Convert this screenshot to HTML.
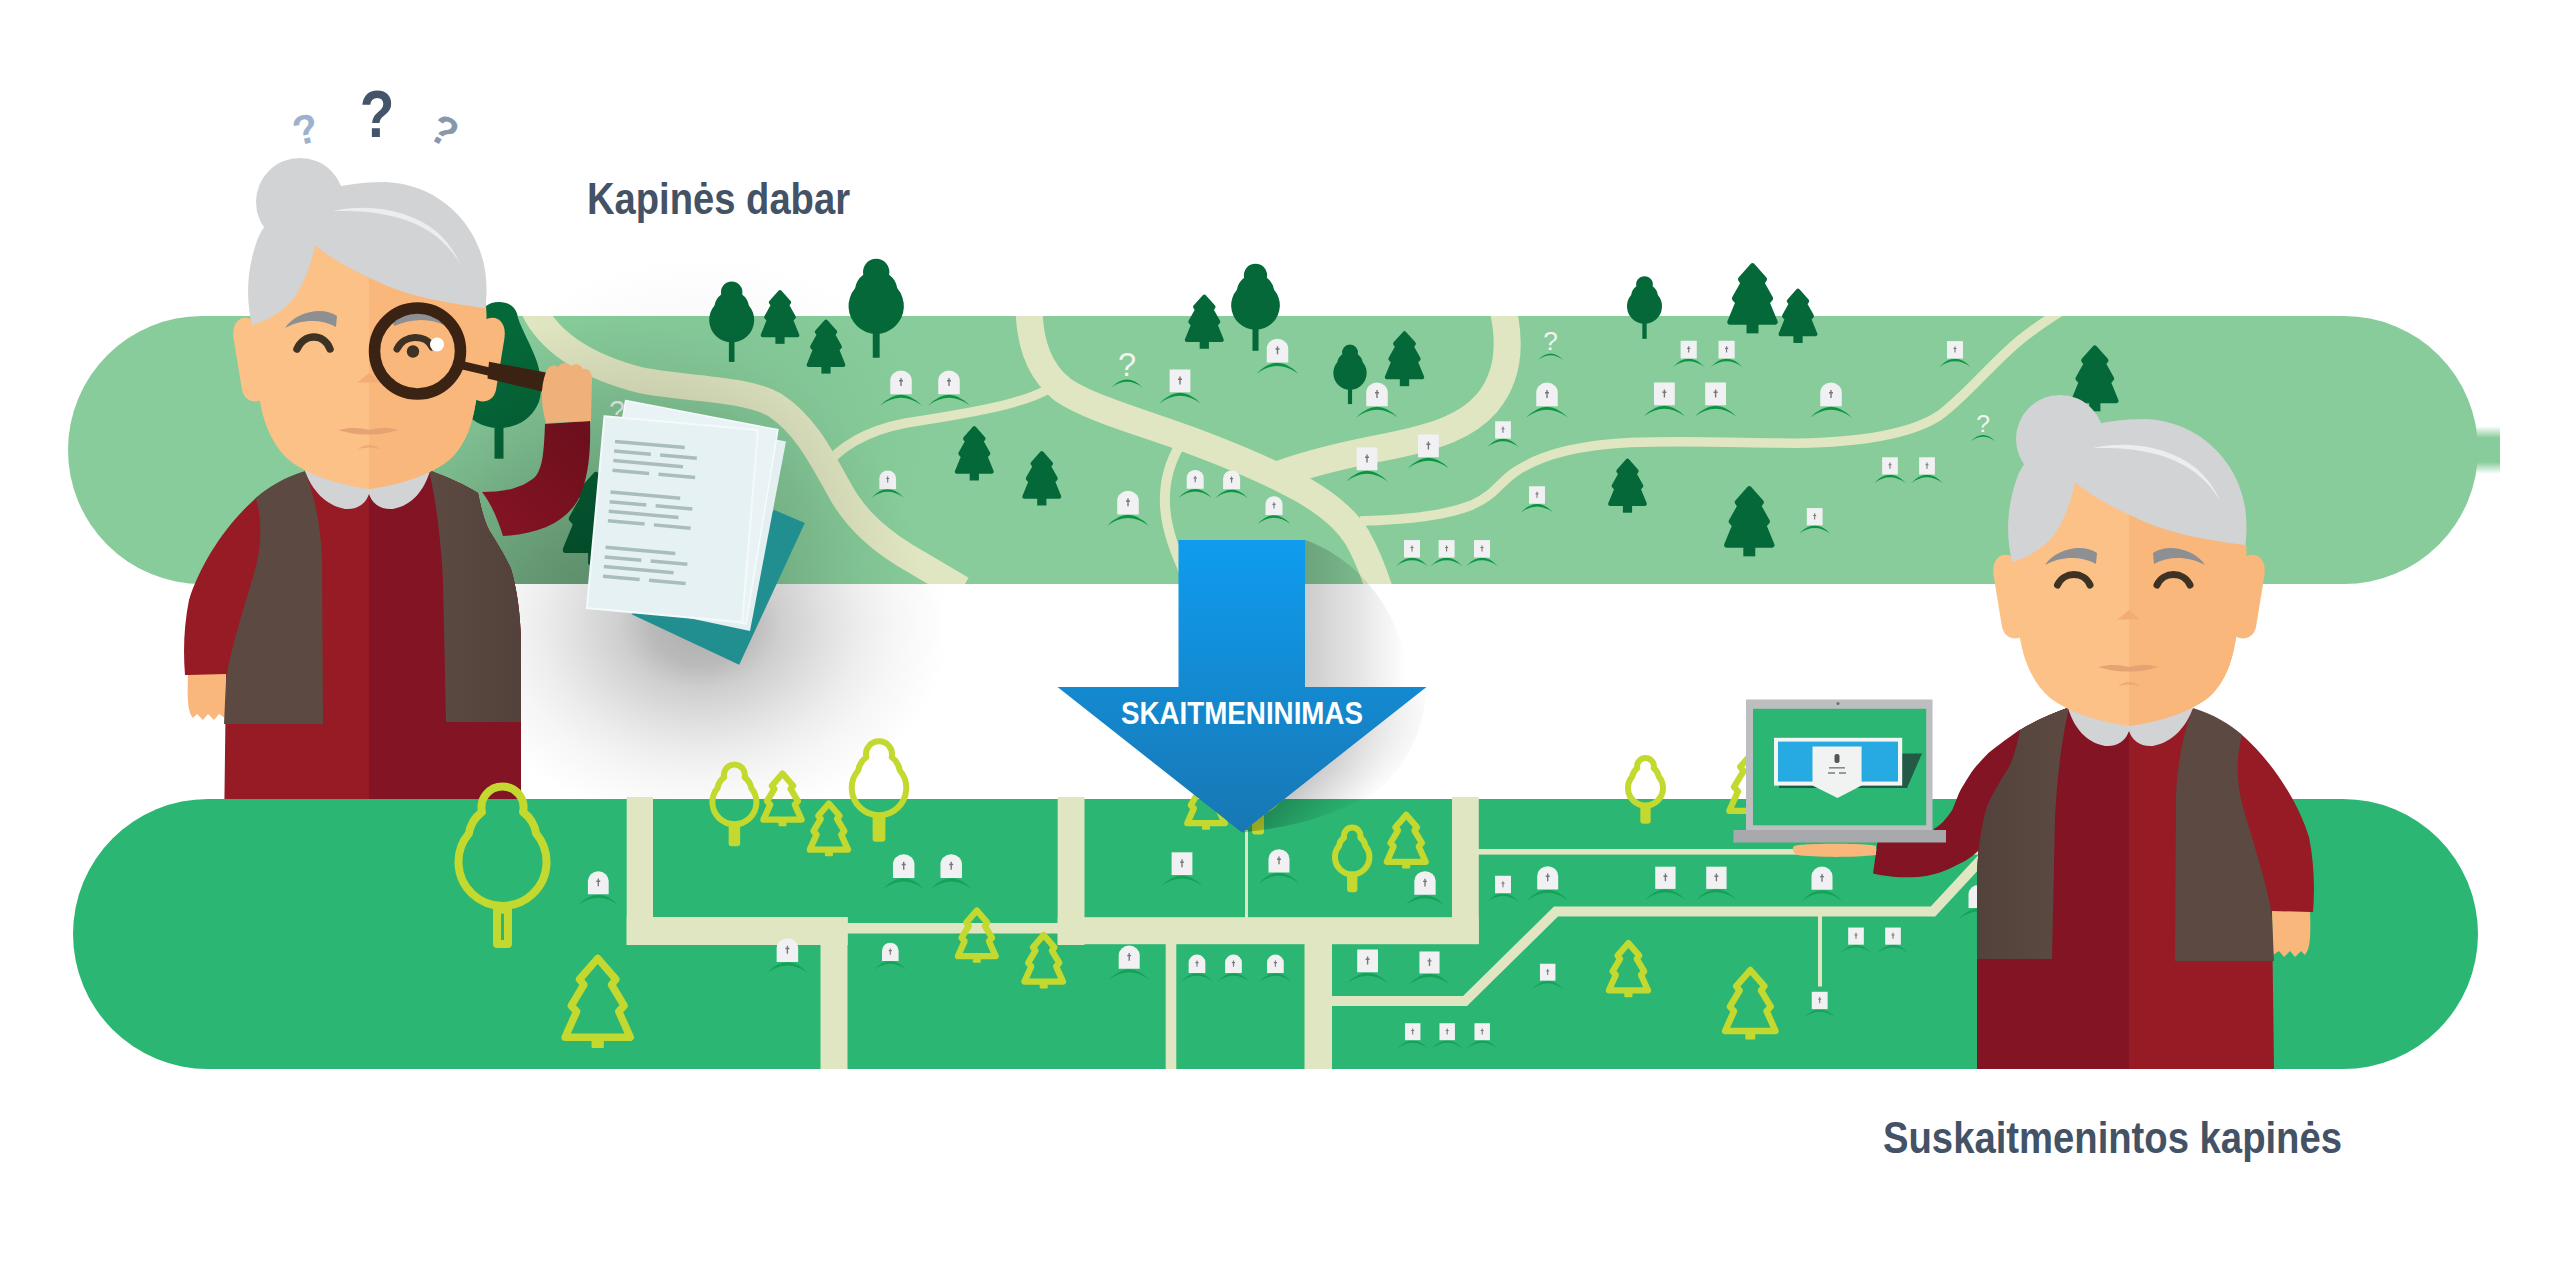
<!DOCTYPE html>
<html lang="lt"><head><meta charset="utf-8"><title>Kapinių skaitmeninimas</title>
<style>html,body{margin:0;padding:0;background:#fff}body{width:2560px;height:1280px;overflow:hidden}svg{display:block}</style></head>
<body>
<svg width="2560" height="1280" viewBox="0 0 2560 1280">

<defs>
 <linearGradient id="arr" x1="0" y1="0" x2="0" y2="1"><stop offset="0" stop-color="#0f9cef"/><stop offset="1" stop-color="#1877b3"/></linearGradient>
 <linearGradient id="arrsh" gradientUnits="userSpaceOnUse" x1="1305" y1="0" x2="1425" y2="0"><stop offset="0" stop-color="#000" stop-opacity=".2"/><stop offset=".45" stop-color="#000" stop-opacity=".1"/><stop offset=".85" stop-color="#000" stop-opacity="0"/></linearGradient>
 <linearGradient id="arrsh2" gradientUnits="userSpaceOnUse" x1="1334" y1="759.5" x2="1368" y2="802.7"><stop offset="0" stop-color="#000" stop-opacity=".25"/><stop offset=".4" stop-color="#000" stop-opacity=".15"/><stop offset="1" stop-color="#000" stop-opacity="0"/></linearGradient>
 <linearGradient id="m2g" gradientUnits="userSpaceOnUse" x1="1262" y1="816" x2="1420" y2="692"><stop offset="0" stop-color="#fff"/><stop offset=".45" stop-color="#fff" stop-opacity=".75"/><stop offset="1" stop-color="#fff" stop-opacity=".08"/></linearGradient>
 <mask id="m2" maskUnits="userSpaceOnUse" x="1200" y="650" width="300" height="220"><rect x="1200" y="650" width="300" height="220" fill="url(#m2g)"/></mask>
 <radialGradient id="gsh"><stop offset="0" stop-color="#000" stop-opacity=".33"/><stop offset=".25" stop-color="#000" stop-opacity=".26"/><stop offset=".5" stop-color="#000" stop-opacity=".16"/><stop offset=".65" stop-color="#000" stop-opacity=".10"/><stop offset=".8" stop-color="#000" stop-opacity=".05"/><stop offset="1" stop-color="#000" stop-opacity="0"/></radialGradient>
 <radialGradient id="gsh2"><stop offset="0" stop-color="#000" stop-opacity=".32"/><stop offset=".2" stop-color="#000" stop-opacity=".27"/><stop offset=".32" stop-color="#000" stop-opacity=".19"/><stop offset=".5" stop-color="#000" stop-opacity=".12"/><stop offset=".64" stop-color="#000" stop-opacity=".07"/><stop offset=".78" stop-color="#000" stop-opacity=".035"/><stop offset="1" stop-color="#000" stop-opacity="0"/></radialGradient>
 <radialGradient id="gsh3"><stop offset="0" stop-color="#000" stop-opacity=".05"/><stop offset=".5" stop-color="#000" stop-opacity=".03"/><stop offset="1" stop-color="#000" stop-opacity="0"/></radialGradient>
 <linearGradient id="stub" x1="0" y1="0" x2="0" y2="1"><stop offset="0" stop-color="#87cc9a" stop-opacity="0"/><stop offset=".25" stop-color="#87cc9a"/><stop offset=".75" stop-color="#87cc9a"/><stop offset="1" stop-color="#87cc9a" stop-opacity="0"/></linearGradient>
 <linearGradient id="armg" gradientUnits="userSpaceOnUse" x1="490" y1="540" x2="590" y2="440"><stop offset="0" stop-color="#861424"/><stop offset="1" stop-color="#6e0f1d"/></linearGradient>
 <linearGradient id="vestg" gradientUnits="userSpaceOnUse" x1="430" y1="0" x2="521" y2="0"><stop offset="0" stop-color="#5c4a42"/><stop offset="1" stop-color="#52423b"/></linearGradient>
 <g id="rt"><path d="M10.5,13.05 A10.75,10.75 0 1 0 -10.5,13.05 A17.3,17.3 0 0 0 -17.19,24.04 A22.5,22.5 0 1 0 17.19,24.04 A17.3,17.3 0 0 0 10.5,13.05 Z"/><rect x="-2.8" y="60" width="5.6" height="20.5"/></g>
 <g id="pn"><path d="M0,2 L9.2,12.3 L7.2,15.2 L13.9,27.2 L11.2,30.2 L17.4,45.3 L-17.4,45.3 L-11.2,30.2 L-13.9,27.2 L-7.2,15.2 L-9.2,12.3 Z" stroke-linejoin="round"/><rect x="-2.6" y="47" width="5.2" height="5"/></g>
 <g id="gr"><path d="M-10.75,23.75 V10 A10.75,10 0 0 1 10.75,10 V23.75 Z" fill="#f1f1f3"/><path d="M0,7.5 V15.5 M-2,10.3 H2" stroke="#77777a" stroke-width="1.4" fill="none"/></g>
 <g id="gs"><rect x="-10.4" y="1" width="20.8" height="22.75" fill="#f1f1f3"/><path d="M0,8 V16 M-2,10.8 H2" stroke="#77777a" stroke-width="1.4" fill="none"/></g>
 <path id="md" d="M-20.75,35 Q0,13.3 20.75,35 Q0,19.6 -20.75,35 Z"/>
</defs>
<rect width="2560" height="1280" fill="#fff"/>
<rect x="2470" y="426" width="30" height="48" fill="url(#stub)"/>
<rect x="68" y="316" width="2410" height="268" rx="134" fill="#87cc9a"/>
<clipPath id="ctop"><rect x="68" y="316" width="2410" height="268" rx="134"/></clipPath>
<g clip-path="url(#ctop)" fill="none" stroke="#e0e6c1" stroke-linecap="butt" stroke-linejoin="round">
<path stroke-width="26" d="M531,303 C545,340 585,366 640,380 C690,390 745,388 775,405 C805,425 820,455 838,487 C855,520 882,543 918,563 L962,589"/>
<path stroke-width="9.5" d="M822,470 C840,445 870,430 906,423 C945,417 990,410 1015,402 C1030,398 1040,394 1050,388"/>
<path stroke-width="27" d="M1029,305 C1029,345 1040,372 1063,390 C1090,408 1135,420 1190,440 C1230,455 1262,468 1290,483 C1320,498 1343,515 1357,537 C1366,553 1374,572 1381,595"/>
<path stroke-width="27" d="M1502,305 C1512,345 1508,378 1487,403 C1468,425 1440,437 1375,449 C1340,456 1310,463 1280,474"/>
<path stroke-width="9.5" d="M1360,521 C1400,520 1445,516 1472,505 C1495,495 1500,482 1515,472 C1545,452 1585,445 1630,442.5 C1700,440 1760,444 1810,443 C1870,441 1915,432 1940,415 C1965,397 1990,365 2020,340 C2035,328 2050,318 2066,308"/>
<path stroke-width="10" d="M1180,445 C1168,465 1164,485 1165,505 C1166,530 1176,555 1192,590"/>
</g>
<path d="M499,302 C510,302 517,308 518,318 C522,330 531,345 537,362 C542,378 543,395 537,406 C530,420 515,428 499,428 C483,428 468,420 461,406 C455,395 456,378 461,362 C467,345 476,330 480,318 C481,308 488,302 499,302 Z" fill="#056839"/><rect x="494.5" y="425" width="9" height="33.7" fill="#056839"/>
<use href="#rt" transform="translate(731.7 281.4) scale(1.000)" fill="#056839"/>
<use href="#pn" transform="translate(780.0 290.0) scale(0.997)" fill="#056839" stroke="#056839" stroke-width="4"/>
<use href="#pn" transform="translate(826.0 319.6) scale(1.000)" fill="#056839" stroke="#056839" stroke-width="4"/>
<use href="#rt" transform="translate(876.2 258.8) scale(1.229)" fill="#056839"/>
<use href="#pn" transform="translate(974.3 426.2) scale(1.005)" fill="#056839" stroke="#056839" stroke-width="4"/>
<use href="#pn" transform="translate(1041.8 451.2) scale(1.005)" fill="#056839" stroke="#056839" stroke-width="4"/>
<use href="#pn" transform="translate(1204.3 294.5) scale(1.005)" fill="#056839" stroke="#056839" stroke-width="4"/>
<use href="#rt" transform="translate(1255.5 263.7) scale(1.082)" fill="#056839"/>
<use href="#rt" transform="translate(1350.0 344.5) scale(0.740)" fill="#056839"/>
<use href="#pn" transform="translate(1404.5 331.2) scale(1.018)" fill="#056839" stroke="#056839" stroke-width="4"/>
<use href="#rt" transform="translate(1644.5 276.2) scale(0.778)" fill="#056839"/>
<use href="#pn" transform="translate(1752.5 263.2) scale(1.299)" fill="#056839" stroke="#056839" stroke-width="4"/>
<use href="#pn" transform="translate(1798.0 288.7) scale(1.005)" fill="#056839" stroke="#056839" stroke-width="4"/>
<use href="#pn" transform="translate(1627.5 458.7) scale(1.000)" fill="#056839" stroke="#056839" stroke-width="4"/>
<use href="#pn" transform="translate(1749.3 486.2) scale(1.299)" fill="#056839" stroke="#056839" stroke-width="4"/>
<use href="#pn" transform="translate(2094.8 345.4) scale(1.221)" fill="#056839" stroke="#056839" stroke-width="4"/>
<use href="#pn" transform="translate(596.0 472.0) scale(1.714)" fill="#056839" stroke="#056839" stroke-width="4"/>
<g transform="translate(901.0 370.5) scale(1.000)"><use href="#md" fill="#0b9444"/><use href="#gr"/></g>
<g transform="translate(949.0 370.5) scale(1.000)"><use href="#md" fill="#0b9444"/><use href="#gr"/></g>
<g transform="translate(887.7 470.5) scale(0.777)"><use href="#md" fill="#0b9444"/><use href="#gr"/></g>
<g transform="translate(1180.0 368.5) scale(1.000)"><use href="#md" fill="#0b9444"/><use href="#gs"/></g>
<g transform="translate(1128.0 490.7) scale(1.000)"><use href="#md" fill="#0b9444"/><use href="#gr"/></g>
<g transform="translate(1195.2 470.0) scale(0.791)"><use href="#md" fill="#0b9444"/><use href="#gr"/></g>
<g transform="translate(1231.6 470.5) scale(0.791)"><use href="#md" fill="#0b9444"/><use href="#gr"/></g>
<g transform="translate(1277.5 338.7) scale(1.000)"><use href="#md" fill="#0b9444"/><use href="#gr"/></g>
<g transform="translate(1274.0 496.2) scale(0.791)"><use href="#md" fill="#0b9444"/><use href="#gr"/></g>
<g transform="translate(1377.0 382.5) scale(1.000)"><use href="#md" fill="#0b9444"/><use href="#gr"/></g>
<g transform="translate(1367.0 446.5) scale(1.000)"><use href="#md" fill="#0b9444"/><use href="#gs"/></g>
<g transform="translate(1428.4 433.5) scale(1.000)"><use href="#md" fill="#0b9444"/><use href="#gs"/></g>
<g transform="translate(1503.0 420.5) scale(0.758)"><use href="#md" fill="#0b9444"/><use href="#gs"/></g>
<g transform="translate(1547.0 382.5) scale(1.000)"><use href="#md" fill="#0b9444"/><use href="#gr"/></g>
<g transform="translate(1664.4 381.5) scale(1.000)"><use href="#md" fill="#0b9444"/><use href="#gs"/></g>
<g transform="translate(1715.6 381.5) scale(1.000)"><use href="#md" fill="#0b9444"/><use href="#gs"/></g>
<g transform="translate(1688.7 340.0) scale(0.777)"><use href="#md" fill="#0b9444"/><use href="#gs"/></g>
<g transform="translate(1726.6 340.0) scale(0.777)"><use href="#md" fill="#0b9444"/><use href="#gs"/></g>
<g transform="translate(1831.0 382.5) scale(1.000)"><use href="#md" fill="#0b9444"/><use href="#gr"/></g>
<g transform="translate(1537.0 485.5) scale(0.767)"><use href="#md" fill="#0b9444"/><use href="#gs"/></g>
<g transform="translate(1814.7 507.3) scale(0.758)"><use href="#md" fill="#0b9444"/><use href="#gs"/></g>
<g transform="translate(1412.0 539.3) scale(0.767)"><use href="#md" fill="#0b9444"/><use href="#gs"/></g>
<g transform="translate(1446.6 539.3) scale(0.767)"><use href="#md" fill="#0b9444"/><use href="#gs"/></g>
<g transform="translate(1482.0 539.3) scale(0.767)"><use href="#md" fill="#0b9444"/><use href="#gs"/></g>
<g transform="translate(1955.0 340.3) scale(0.767)"><use href="#md" fill="#0b9444"/><use href="#gs"/></g>
<g transform="translate(1890.0 456.5) scale(0.758)"><use href="#md" fill="#0b9444"/><use href="#gs"/></g>
<g transform="translate(1927.0 456.5) scale(0.758)"><use href="#md" fill="#0b9444"/><use href="#gs"/></g>
<text x="1127.0" y="376.0" font-family="Liberation Sans, sans-serif" font-size="32.6" fill="#f1f4f1" text-anchor="middle">?</text>
<use href="#md" transform="translate(1127.0 379.5) scale(0.764) translate(0 -24.25)" fill="#0b9444"/>
<text x="1550.6" y="350.0" font-family="Liberation Sans, sans-serif" font-size="26.1" fill="#f1f4f1" text-anchor="middle">?</text>
<use href="#md" transform="translate(1550.6 353.5) scale(0.612) translate(0 -24.25)" fill="#0b9444"/>
<text x="1983.0" y="431.5" font-family="Liberation Sans, sans-serif" font-size="24.7" fill="#f1f4f1" text-anchor="middle">?</text>
<use href="#md" transform="translate(1983.0 435.0) scale(0.579) translate(0 -24.25)" fill="#0b9444"/>
<text x="617.0" y="420.0" font-family="Liberation Sans, sans-serif" font-size="27.8" fill="#f1f4f1" text-anchor="middle">?</text>
<use href="#md" transform="translate(617.0 423.5) scale(0.651) translate(0 -24.25)" fill="#0b9444"/>
<ellipse cx="700" cy="440" rx="230" ry="185" fill="url(#gsh3)"/>
<g clip-path="url(#ctop)"><ellipse cx="600" cy="620" rx="330" ry="300" fill="url(#gsh)"/></g>
<clipPath id="cgap"><rect x="0" y="584" width="2560" height="400"/></clipPath>
<g clip-path="url(#cgap)"><ellipse cx="700" cy="625" rx="250" ry="200" fill="url(#gsh2)"/></g>
<g>
<polygon points="774.4,510 804.8,523 739.2,664.7 631.5,614.3" fill="#218e8f"/>
<polygon points="640,412 786,441.4 750,631 604,600" fill="#e4eff1"/>
<polygon points="625.6,400.6 777.9,429.7 746,624 594,592" fill="#e9f3f5" stroke="#f6fbfc" stroke-width="1.5"/>
<g transform="translate(604.5 416.3) rotate(5.1)">
<polygon points="0,0 154,0 155.5,193 -0.5,192.5" fill="#e6f1f3" stroke="#f4fafb" stroke-width="2"/>
<rect x="12.7" y="22.3" width="70" height="3.5" fill="#a9bdbd"/>
<rect x="12.7" y="31.9" width="36.8" height="3.5" fill="#a9bdbd"/><rect x="58.9" y="31.9" width="36.8" height="3.5" fill="#a9bdbd"/>
<rect x="12.7" y="41.6" width="70" height="3.5" fill="#a9bdbd"/>
<rect x="12.7" y="51.2" width="36.8" height="3.5" fill="#a9bdbd"/><rect x="58.9" y="51.2" width="36.8" height="3.5" fill="#a9bdbd"/>
<rect x="12.7" y="73.1" width="70" height="3.5" fill="#a9bdbd"/>
<rect x="12.7" y="82.8" width="36.8" height="3.5" fill="#a9bdbd"/><rect x="58.9" y="82.8" width="36.8" height="3.5" fill="#a9bdbd"/>
<rect x="12.7" y="92.4" width="70" height="3.5" fill="#a9bdbd"/>
<rect x="12.7" y="102.0" width="36.8" height="3.5" fill="#a9bdbd"/><rect x="58.9" y="102.0" width="36.8" height="3.5" fill="#a9bdbd"/>
<rect x="12.7" y="128.6" width="70" height="3.5" fill="#a9bdbd"/>
<rect x="12.7" y="138.3" width="36.8" height="3.5" fill="#a9bdbd"/><rect x="58.9" y="138.3" width="36.8" height="3.5" fill="#a9bdbd"/>
<rect x="12.7" y="147.9" width="70" height="3.5" fill="#a9bdbd"/>
<rect x="12.7" y="157.6" width="36.8" height="3.5" fill="#a9bdbd"/><rect x="58.9" y="157.6" width="36.8" height="3.5" fill="#a9bdbd"/>
</g></g>
<g id="g1">
<clipPath id="bcla"><path d="M369,462 C330,462 285,474 257,497 C225,525 200,565 189,600 C184,625 183,650 185,675 L226,675 L224,832 L521,832 L521,640 C520,610 517,590 511,569 C505,555 495,540 489,530 C484,520 481,508 478,493 C465,485 450,478 431,471 C410,464 390,462 369,462 Z"/></clipPath><path d="M369,462 C330,462 285,474 257,497 C225,525 200,565 189,600 C184,625 183,650 185,675 L226,675 L224,832 L521,832 L521,640 C520,610 517,590 511,569 C505,555 495,540 489,530 C484,520 481,508 478,493 C465,485 450,478 431,471 C410,464 390,462 369,462 Z" fill="#961b25"/><rect x="369" y="450" width="160" height="382" fill="#821423" clip-path="url(#bcla)"/><path d="M188,675 L226,674 L225,718 L219,714 L214,720 L208,714 L203,720 L197,714 L193,718 C188,712 187,700 188,675 Z" fill="#f9b77b"/><path d="M305,471 C285,477 268,487 256,498 C262,520 262,545 255,570 C245,605 230,650 226,680 L224,724 L323,724 L322,560 C321,530 316,500 305,471 Z" fill="#5c4a42"/><path d="M429,471 C436,500 441,540 443,580 L446,722 L521,722 L521,640 C520,610 517,590 511,569 C505,555 495,540 489,530 C484,520 481,508 478,493 C465,485 450,478 431,471 Z" fill="url(#vestg)"/><path d="M305,471 C312,490 325,505 345,509 C358,510 366,503 369,494 C372,503 380,510 393,509 C413,505 424,490 430,471 L369,462 Z" fill="#d1d3d5"/>
<path d="M482,492 C500,492 520,490 535,477 C543,468 544,450 545,424 L590,421 C591,455 588,480 578,500 C565,522 540,534 503,536 C498,520 492,505 482,492 Z" fill="url(#armg)"/>
<path d="M256,322 C244,312 231,320 233.5,338 L242,390 C245,403 258,404 264,398 Z" fill="#fcc186"/><path d="M482,322 C494,312 507,320 504.5,338 L496,390 C493,403 480,404 474,398 Z" fill="#f9b77b"/><clipPath id="fcl"><path d="M252,318 C250,350 255,385 260,401 C263,420 271,444 289,460 C309,476 340,485 369,489 C398,485 429,476 449,460 C467,444 473,420 476,401 C482,385 488,350 486,305 C470,215 290,215 252,318 Z"/></clipPath><path d="M252,318 C250,350 255,385 260,401 C263,420 271,444 289,460 C309,476 340,485 369,489 C398,485 429,476 449,460 C467,444 473,420 476,401 C482,385 488,350 486,305 C470,215 290,215 252,318 Z" fill="#fcc186"/><rect x="369" y="230" width="140" height="270" fill="#f9b77b" clip-path="url(#fcl)"/><ellipse cx="330" cy="275" rx="38" ry="40" fill="#fcc186"/><circle cx="300" cy="202" r="44" fill="#d1d3d5"/><path d="M252,325 C246,300 246,270 258,238 C275,200 330,182 385,182 C440,184 478,225 485,270 C487,285 487,298 485,308 C450,304 410,296 385,285 C355,272 330,258 315,245 C312,262 305,282 294,298 C283,312 268,320 252,325 Z" fill="#d1d3d5"/><path d="M333,211 C370,203 410,210 437,232 C448,242 455,252 460,264 C452,250 442,240 430,232 C405,215 370,210 333,211 Z" fill="#eceded"/><path d="M357,382.5 C361,380 365,376 369,373 C373,376 377,380 380,382.5 Z" fill="#f2ac74"/><path d="M338,430 C350,427 360,427.5 369,430 C378,427.5 388,427 399,430 C388,433 378,435 369,434.5 C358,435 348,433 338,430 Z" fill="#e5a273"/><path d="M358,449 Q369,441 380,449 Q369,446 358,449 Z" fill="#eeaa74"/>
<path d="M285,328 C296,312 322,306 337,316 L336,327 C320,318 300,320 285,328 Z" fill="#8d8f93"/><path d="M392,316 C410,306 436,312 446,326 C432,318 412,318 394,326 Z" fill="#8d8f93"/><path d="M297,349 C304,333 324,333 330,349" fill="none" stroke="#3d3224" stroke-width="7.5" stroke-linecap="round"/><path d="M397,349 C404,334 426,334 432,347" fill="none" stroke="#3d3224" stroke-width="7" stroke-linecap="round"/><circle cx="413" cy="351.5" r="6.2" fill="#3d3224"/>
<path d="M462,361 L492,368 L490,376 L460,369 Z" fill="#3b2314"/>
<path d="M489,361.8 L546,372.5 L544,392 L487.5,378.6 Z" fill="#3b2314"/>
<circle cx="417.5" cy="351" r="43" fill="none" stroke="#3b2314" stroke-width="11.5"/>
<circle cx="437" cy="344.5" r="7" fill="#fff"/>
<path d="M546,372 C548,366 554,364 558,367 C561,362 568,362 571,366 C575,363 581,364 583,369 C588,368 592,372 592,378 L591,421 L546,423 C541,405 540,388 546,372 Z" fill="#efb079"/>
</g>
<text transform="translate(377 137) scale(.86 1)" font-family="Liberation Sans, sans-serif" font-weight="bold" font-size="66" fill="#44546a" text-anchor="middle">?</text>
<text transform="translate(309 143) rotate(-14)" font-family="Liberation Sans, sans-serif" font-weight="bold" font-size="41" fill="#9cb2cc" text-anchor="middle">?</text>
<text transform="translate(437 143) rotate(30)" font-family="Liberation Sans, sans-serif" font-weight="bold" font-size="41" fill="#8798ad" text-anchor="middle">?</text>
<rect x="73" y="799" width="2405" height="270" rx="135" fill="#2bb673"/>
<clipPath id="cbot"><rect x="73" y="790" width="2405" height="279"/></clipPath>
<g clip-path="url(#cbot)" fill="#e0e6c1">
<rect x="626.7" y="797" width="26.3" height="148"/>
<rect x="626.7" y="917" width="221" height="28"/>
<rect x="820.5" y="917" width="27" height="160"/>
<rect x="847" y="923" width="211" height="10.5"/>
<rect x="1057.7" y="797" width="26.8" height="148"/>
<rect x="1057.7" y="917.2" width="421" height="27"/>
<rect x="1452" y="797" width="26.8" height="147"/>
<rect x="1165.7" y="944" width="10.6" height="130"/>
<rect x="1304.5" y="944" width="27.5" height="130"/>
<rect x="1245" y="830" width="3" height="88"/>
<rect x="1478" y="849" width="500" height="5.6"/>
<rect x="1818" y="916" width="4" height="70.5"/>
<path d="M1332,1001 H1465 L1556,911.5 H1933 L1990,850" fill="none" stroke="#e0e6c1" stroke-width="10"/>
</g>
<g transform="translate(502.5 786.5) scale(1.956)" fill="none" stroke="#c3d92f" stroke-width="4.09" stroke-linejoin="round"><rect x="-2.8" y="63" width="5.6" height="17.5" fill="none"/><path d="M10.5,13.05 A10.75,10.75 0 1 0 -10.5,13.05 A17.3,17.3 0 0 0 -17.19,24.04 A22.5,22.5 0 1 0 17.19,24.04 A17.3,17.3 0 0 0 10.5,13.05 Z"/></g>
<g transform="translate(597.7 957.0) scale(1.714)" fill="none" stroke="#c3d92f" stroke-width="4.38" stroke-linejoin="round"><rect x="-3" y="49" width="6" height="3.5" fill="#c3d92f" stroke-width="1.17"/><path d="M0,0.8 L10.6,13 L8.1,16.2 L15.4,28.4 L12.3,31.8 L19,46.8 L-19,46.8 L-12.3,31.8 L-15.4,28.4 L-8.1,16.2 L-10.6,13 Z"/></g>
<g transform="translate(734.4 764.5) scale(0.978)" fill="none" stroke="#c3d92f" stroke-width="6.14" stroke-linejoin="round"><rect x="-2.8" y="63" width="5.6" height="17.5" fill="#c3d92f"/><path d="M10.5,13.05 A10.75,10.75 0 1 0 -10.5,13.05 A17.3,17.3 0 0 0 -17.19,24.04 A22.5,22.5 0 1 0 17.19,24.04 A17.3,17.3 0 0 0 10.5,13.05 Z"/></g>
<g transform="translate(782.5 772.7) scale(1.003)" fill="none" stroke="#c3d92f" stroke-width="6.28" stroke-linejoin="round"><rect x="-3" y="49" width="6" height="3.5" fill="#c3d92f" stroke-width="1.99"/><path d="M0,0.8 L10.6,13 L8.1,16.2 L15.4,28.4 L12.3,31.8 L19,46.8 L-19,46.8 L-12.3,31.8 L-15.4,28.4 L-8.1,16.2 L-10.6,13 Z"/></g>
<g transform="translate(828.9 802.7) scale(1.003)" fill="none" stroke="#c3d92f" stroke-width="6.28" stroke-linejoin="round"><rect x="-3" y="49" width="6" height="3.5" fill="#c3d92f" stroke-width="1.99"/><path d="M0,0.8 L10.6,13 L8.1,16.2 L15.4,28.4 L12.3,31.8 L19,46.8 L-19,46.8 L-12.3,31.8 L-15.4,28.4 L-8.1,16.2 L-10.6,13 Z"/></g>
<g transform="translate(879.0 741.3) scale(1.211)" fill="none" stroke="#c3d92f" stroke-width="4.95" stroke-linejoin="round"><rect x="-2.8" y="63" width="5.6" height="17.5" fill="#c3d92f"/><path d="M10.5,13.05 A10.75,10.75 0 1 0 -10.5,13.05 A17.3,17.3 0 0 0 -17.19,24.04 A22.5,22.5 0 1 0 17.19,24.04 A17.3,17.3 0 0 0 10.5,13.05 Z"/></g>
<g transform="translate(976.8 909.7) scale(0.992)" fill="none" stroke="#c3d92f" stroke-width="6.35" stroke-linejoin="round"><rect x="-3" y="49" width="6" height="3.5" fill="#c3d92f" stroke-width="2.02"/><path d="M0,0.8 L10.6,13 L8.1,16.2 L15.4,28.4 L12.3,31.8 L19,46.8 L-19,46.8 L-12.3,31.8 L-15.4,28.4 L-8.1,16.2 L-10.6,13 Z"/></g>
<g transform="translate(1043.7 934.2) scale(1.013)" fill="none" stroke="#c3d92f" stroke-width="6.22" stroke-linejoin="round"><rect x="-3" y="49" width="6" height="3.5" fill="#c3d92f" stroke-width="1.97"/><path d="M0,0.8 L10.6,13 L8.1,16.2 L15.4,28.4 L12.3,31.8 L19,46.8 L-19,46.8 L-12.3,31.8 L-15.4,28.4 L-8.1,16.2 L-10.6,13 Z"/></g>
<g transform="translate(1206.0 777.0) scale(0.987)" fill="none" stroke="#c3d92f" stroke-width="6.38" stroke-linejoin="round"><rect x="-3" y="49" width="6" height="3.5" fill="#c3d92f" stroke-width="2.03"/><path d="M0,0.8 L10.6,13 L8.1,16.2 L15.4,28.4 L12.3,31.8 L19,46.8 L-19,46.8 L-12.3,31.8 L-15.4,28.4 L-8.1,16.2 L-10.6,13 Z"/></g>
<g transform="translate(1258.0 745.5) scale(1.067)" fill="none" stroke="#c3d92f" stroke-width="5.62" stroke-linejoin="round"><rect x="-2.8" y="63" width="5.6" height="17.5" fill="#c3d92f"/><path d="M10.5,13.05 A10.75,10.75 0 1 0 -10.5,13.05 A17.3,17.3 0 0 0 -17.19,24.04 A22.5,22.5 0 1 0 17.19,24.04 A17.3,17.3 0 0 0 10.5,13.05 Z"/></g>
<g transform="translate(1352.2 827.5) scale(0.767)" fill="none" stroke="#c3d92f" stroke-width="7.83" stroke-linejoin="round"><rect x="-2.8" y="63" width="5.6" height="17.5" fill="#c3d92f"/><path d="M10.5,13.05 A10.75,10.75 0 1 0 -10.5,13.05 A17.3,17.3 0 0 0 -17.19,24.04 A22.5,22.5 0 1 0 17.19,24.04 A17.3,17.3 0 0 0 10.5,13.05 Z"/></g>
<g transform="translate(1406.2 814.0) scale(1.021)" fill="none" stroke="#c3d92f" stroke-width="6.17" stroke-linejoin="round"><rect x="-3" y="49" width="6" height="3.5" fill="#c3d92f" stroke-width="1.96"/><path d="M0,0.8 L10.6,13 L8.1,16.2 L15.4,28.4 L12.3,31.8 L19,46.8 L-19,46.8 L-12.3,31.8 L-15.4,28.4 L-8.1,16.2 L-10.6,13 Z"/></g>
<g transform="translate(1645.5 758.0) scale(0.778)" fill="none" stroke="#c3d92f" stroke-width="7.71" stroke-linejoin="round"><rect x="-2.8" y="63" width="5.6" height="17.5" fill="#c3d92f"/><path d="M10.5,13.05 A10.75,10.75 0 1 0 -10.5,13.05 A17.3,17.3 0 0 0 -17.19,24.04 A22.5,22.5 0 1 0 17.19,24.04 A17.3,17.3 0 0 0 10.5,13.05 Z"/></g>
<g transform="translate(1754.0 750.0) scale(1.299)" fill="none" stroke="#c3d92f" stroke-width="4.85" stroke-linejoin="round"><rect x="-3" y="49" width="6" height="3.5" fill="#c3d92f" stroke-width="1.54"/><path d="M0,0.8 L10.6,13 L8.1,16.2 L15.4,28.4 L12.3,31.8 L19,46.8 L-19,46.8 L-12.3,31.8 L-15.4,28.4 L-8.1,16.2 L-10.6,13 Z"/></g>
<g transform="translate(1628.4 942.3) scale(1.026)" fill="none" stroke="#c3d92f" stroke-width="6.14" stroke-linejoin="round"><rect x="-3" y="49" width="6" height="3.5" fill="#c3d92f" stroke-width="1.95"/><path d="M0,0.8 L10.6,13 L8.1,16.2 L15.4,28.4 L12.3,31.8 L19,46.8 L-19,46.8 L-12.3,31.8 L-15.4,28.4 L-8.1,16.2 L-10.6,13 Z"/></g>
<g transform="translate(1750.3 969.0) scale(1.325)" fill="none" stroke="#c3d92f" stroke-width="4.91" stroke-linejoin="round"><rect x="-3" y="49" width="6" height="3.5" fill="#c3d92f" stroke-width="1.51"/><path d="M0,0.8 L10.6,13 L8.1,16.2 L15.4,28.4 L12.3,31.8 L19,46.8 L-19,46.8 L-12.3,31.8 L-15.4,28.4 L-8.1,16.2 L-10.6,13 Z"/></g>
<g transform="translate(598.3 871.3) scale(0.967)"><use href="#md" fill="#13a257"/><use href="#gr"/></g>
<g transform="translate(903.7 854.2) scale(1.000)"><use href="#md" fill="#13a257"/><use href="#gr"/></g>
<g transform="translate(951.2 854.2) scale(1.000)"><use href="#md" fill="#13a257"/><use href="#gr"/></g>
<g transform="translate(890.3 942.7) scale(0.772)"><use href="#md" fill="#13a257"/><use href="#gr"/></g>
<g transform="translate(787.4 938.2) scale(1.000)"><use href="#md" fill="#13a257"/><use href="#gr"/></g>
<g transform="translate(1182.0 851.3) scale(1.000)"><use href="#md" fill="#13a257"/><use href="#gs"/></g>
<g transform="translate(1129.2 945.6) scale(0.977)"><use href="#md" fill="#13a257"/><use href="#gr"/></g>
<g transform="translate(1197.0 954.6) scale(0.777)"><use href="#md" fill="#13a257"/><use href="#gr"/></g>
<g transform="translate(1233.5 954.6) scale(0.777)"><use href="#md" fill="#13a257"/><use href="#gr"/></g>
<g transform="translate(1275.4 954.6) scale(0.777)"><use href="#md" fill="#13a257"/><use href="#gr"/></g>
<g transform="translate(1279.0 849.2) scale(0.977)"><use href="#md" fill="#13a257"/><use href="#gr"/></g>
<g transform="translate(1425.0 871.2) scale(0.991)"><use href="#md" fill="#13a257"/><use href="#gr"/></g>
<g transform="translate(1367.6 948.5) scale(1.000)"><use href="#md" fill="#13a257"/><use href="#gs"/></g>
<g transform="translate(1429.5 950.5) scale(0.967)"><use href="#md" fill="#13a257"/><use href="#gs"/></g>
<g transform="translate(1503.0 875.0) scale(0.767)"><use href="#md" fill="#13a257"/><use href="#gs"/></g>
<g transform="translate(1547.7 866.2) scale(0.977)"><use href="#md" fill="#13a257"/><use href="#gr"/></g>
<g transform="translate(1665.4 865.7) scale(0.977)"><use href="#md" fill="#13a257"/><use href="#gs"/></g>
<g transform="translate(1716.4 865.7) scale(0.977)"><use href="#md" fill="#13a257"/><use href="#gs"/></g>
<g transform="translate(1822.0 866.6) scale(0.977)"><use href="#md" fill="#13a257"/><use href="#gr"/></g>
<g transform="translate(1547.7 963.0) scale(0.744)"><use href="#md" fill="#13a257"/><use href="#gs"/></g>
<g transform="translate(1412.7 1022.5) scale(0.744)"><use href="#md" fill="#13a257"/><use href="#gs"/></g>
<g transform="translate(1447.2 1022.5) scale(0.744)"><use href="#md" fill="#13a257"/><use href="#gs"/></g>
<g transform="translate(1482.2 1022.5) scale(0.744)"><use href="#md" fill="#13a257"/><use href="#gs"/></g>
<g transform="translate(1856.0 926.8) scale(0.753)"><use href="#md" fill="#13a257"/><use href="#gs"/></g>
<g transform="translate(1893.0 926.8) scale(0.753)"><use href="#md" fill="#13a257"/><use href="#gs"/></g>
<g transform="translate(1819.7 991.0) scale(0.763)"><use href="#md" fill="#13a257"/><use href="#gs"/></g>
<g transform="translate(1979.0 884.7) scale(0.977)"><use href="#md" fill="#13a257"/><use href="#gr"/></g>
<path d="M1305,540 C1350,556 1400,600 1412,687 L1305,687 Z" fill="url(#arrsh)"/>
<path d="M1426.5,687 C1425,735 1400,775 1372,795 C1335,815 1290,828 1242,832.5 Z" fill="url(#arrsh2)" mask="url(#m2)"/>
<path d="M1178.5,540 H1305 V687 H1426.5 L1242,832.5 L1057.5,687 H1178.5 Z" fill="url(#arr)"/>
<text x="1242" y="724" font-family="Liberation Sans, sans-serif" font-weight="bold" font-size="30.5" fill="#fff" text-anchor="middle" textLength="242" lengthAdjust="spacingAndGlyphs">SKAITMENINIMAS</text>
<clipPath id="g2c"><rect x="1800" y="300" width="760" height="769"/></clipPath>
<g clip-path="url(#g2c)">
<path d="M2019.7,729.7 C2005,740 1996,747 1988.4,753 C1980,762 1974,768 1969.7,775 C1964,784 1961,789 1958.75,793.75 L1952.5,809.4 C1949,815 1946,818 1943,822 C1940,825 1937,827 1933.75,829 L1933,842 L1877.5,842 L1873,873.4 C1885,876 1895,877 1902.5,877.3 C1912,877.5 1920,877 1927.5,875.8 C1936,874 1943,871.5 1949.4,868.75 L1965,861 C1970,858 1975,854 1979,850 L2030,850 L2080,760 Z" fill="#821423"/>
<g transform="translate(2498 237) scale(-1 1)"><clipPath id="bclb"><path d="M369,462 C330,462 285,474 257,497 C225,525 200,565 189,600 C184,625 183,650 185,675 L226,675 L224,832 L521,832 L521,640 C520,610 517,590 511,569 C505,555 495,540 489,530 C484,520 481,508 478,493 C465,485 450,478 431,471 C410,464 390,462 369,462 Z"/></clipPath><path d="M369,462 C330,462 285,474 257,497 C225,525 200,565 189,600 C184,625 183,650 185,675 L226,675 L224,832 L521,832 L521,640 C520,610 517,590 511,569 C505,555 495,540 489,530 C484,520 481,508 478,493 C465,485 450,478 431,471 C410,464 390,462 369,462 Z" fill="#961b25"/><rect x="369" y="450" width="160" height="382" fill="#821423" clip-path="url(#bclb)"/><path d="M188,675 L226,674 L225,718 L219,714 L214,720 L208,714 L203,720 L197,714 L193,718 C188,712 187,700 188,675 Z" fill="#f9b77b"/><path d="M305,471 C285,477 268,487 256,498 C262,520 262,545 255,570 C245,605 230,650 226,680 L224,724 L323,724 L322,560 C321,530 316,500 305,471 Z" fill="#5c4a42"/><path d="M429,471 C436,500 441,540 443,580 L446,722 L521,722 L521,640 C520,610 517,590 511,569 C505,555 495,540 489,530 C484,520 481,508 478,493 C465,485 450,478 431,471 Z" fill="url(#vestg)"/><path d="M305,471 C312,490 325,505 345,509 C358,510 366,503 369,494 C372,503 380,510 393,509 C413,505 424,490 430,471 L369,462 Z" fill="#d1d3d5"/></g>
<g transform="translate(1760 237)"><path d="M256,322 C244,312 231,320 233.5,338 L242,390 C245,403 258,404 264,398 Z" fill="#fcc186"/><path d="M482,322 C494,312 507,320 504.5,338 L496,390 C493,403 480,404 474,398 Z" fill="#f9b77b"/><clipPath id="fcl2"><path d="M252,318 C250,350 255,385 260,401 C263,420 271,444 289,460 C309,476 340,485 369,489 C398,485 429,476 449,460 C467,444 473,420 476,401 C482,385 488,350 486,305 C470,215 290,215 252,318 Z"/></clipPath><path d="M252,318 C250,350 255,385 260,401 C263,420 271,444 289,460 C309,476 340,485 369,489 C398,485 429,476 449,460 C467,444 473,420 476,401 C482,385 488,350 486,305 C470,215 290,215 252,318 Z" fill="#fcc186"/><rect x="369" y="230" width="140" height="270" fill="#f9b77b" clip-path="url(#fcl2)"/><ellipse cx="330" cy="275" rx="38" ry="40" fill="#fcc186"/><circle cx="300" cy="202" r="44" fill="#d1d3d5"/><path d="M252,325 C246,300 246,270 258,238 C275,200 330,182 385,182 C440,184 478,225 485,270 C487,285 487,298 485,308 C450,304 410,296 385,285 C355,272 330,258 315,245 C312,262 305,282 294,298 C283,312 268,320 252,325 Z" fill="#d1d3d5"/><path d="M333,211 C370,203 410,210 437,232 C448,242 455,252 460,264 C452,250 442,240 430,232 C405,215 370,210 333,211 Z" fill="#eceded"/><path d="M357,382.5 C361,380 365,376 369,373 C373,376 377,380 380,382.5 Z" fill="#f2ac74"/><path d="M338,430 C350,427 360,427.5 369,430 C378,427.5 388,427 399,430 C388,433 378,435 369,434.5 C358,435 348,433 338,430 Z" fill="#e5a273"/><path d="M358,449 Q369,441 380,449 Q369,446 358,449 Z" fill="#eeaa74"/><path d="M285,328 C296,312 322,306 337,316 L336,327 C320,318 300,320 285,328 Z" fill="#8d8f93"/><path d="M445,328 C434,312 408,306 393,316 L394,327 C410,318 430,320 445,328 Z" fill="#8d8f93"/><path d="M297.5,348 C304,334 324,334 330,348" fill="none" stroke="#3d3224" stroke-width="7" stroke-linecap="round"/><path d="M397,348 C403.5,334 423.5,334 430,348" fill="none" stroke="#3d3224" stroke-width="7" stroke-linecap="round"/></g>
</g>
<path d="M1794,846 C1800,843 1870,843 1876,846 L1876,855 C1850,858 1810,857 1798,855 C1792,853 1792,848 1794,846 Z" fill="#f9b77b"/>
<rect x="1746" y="699.5" width="186.5" height="132" fill="#bcbec0"/>
<rect x="1733.5" y="830" width="212.5" height="12.5" fill="#a7a9ac"/>
<rect x="1753" y="708.8" width="173.2" height="116.5" fill="#2bb673"/>
<polygon points="1902,753.5 1922,753.5 1907,788 1779,788 1779,780 1902,780" fill="#225a46"/>
<rect x="1774" y="737.8" width="128.2" height="47.8" fill="#f4f6f6"/>
<rect x="1778" y="741.6" width="120" height="40" fill="#27aae1"/>
<path d="M1812.5,746.6 H1861.6 V785.6 L1837.5,798 L1812.5,785.6 Z" fill="#f1f2f2"/>
<rect x="1834.5" y="754" width="5" height="9" rx="2" fill="#555"/><rect x="1829" y="767" width="16" height="1.6" fill="#888"/><rect x="1828" y="772" width="7" height="2" fill="#999"/><rect x="1839" y="772" width="7" height="2" fill="#999"/>
<circle cx="1838" cy="703.6" r="1.5" fill="#6d6e71"/>
<text x="587" y="214" font-family="Liberation Sans, sans-serif" font-weight="bold" font-size="44" fill="#435265" textLength="263" lengthAdjust="spacingAndGlyphs">Kapinės dabar</text>
<text x="1883" y="1152.5" font-family="Liberation Sans, sans-serif" font-weight="bold" font-size="44" fill="#435265" textLength="459" lengthAdjust="spacingAndGlyphs">Suskaitmenintos kapinės</text>
</svg>
</body></html>
